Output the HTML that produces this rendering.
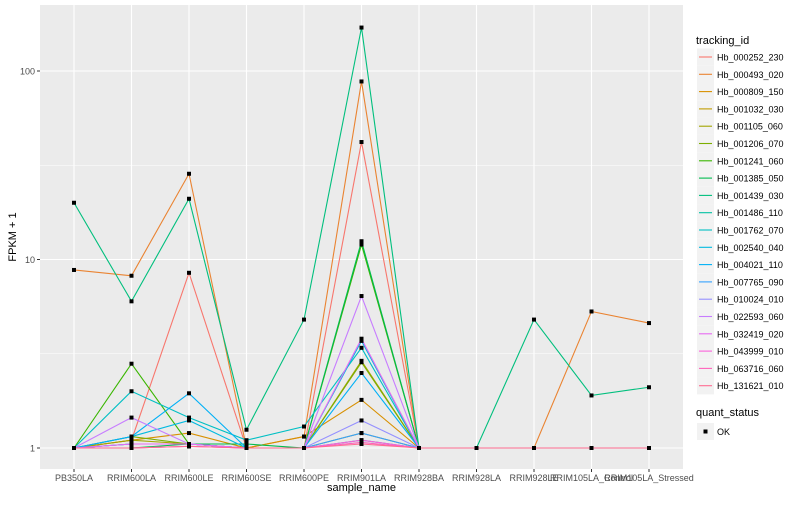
<!DOCTYPE html>
<html><head><meta charset="utf-8"><style>
body{margin:0;background:#fff;font-family:"Liberation Sans",sans-serif}
svg text{font-family:"Liberation Sans",sans-serif}
</style></head><body>
<svg id="chart" width="800" height="500" xmlns="http://www.w3.org/2000/svg"></svg>
<script>
const samples=["PB350LA","RRIM600LA","RRIM600LE","RRIM600SE","RRIM600PE","RRIM901LA","RRIM928BA","RRIM928LA","RRIM928LE","RRIM105LA_Control","RRIM105LA_Stressed"];
const ids=["Hb_000252_230","Hb_000493_020","Hb_000809_150","Hb_001032_030","Hb_001105_060","Hb_001206_070","Hb_001241_060","Hb_001385_050","Hb_001439_030","Hb_001486_110","Hb_001762_070","Hb_002540_040","Hb_004021_110","Hb_007765_090","Hb_010024_010","Hb_022593_060","Hb_032419_020","Hb_043999_010","Hb_063716_060","Hb_131621_010"];
const colors=["#F8766D","#EA8331","#D89000","#C09B00","#A3A500","#7CAE00","#39B600","#00BB4E","#00BF7D","#00C1A3","#00BFC4","#00BAE0","#00B0F6","#35A2FF","#9590FF","#C77CFF","#E76BF3","#FA62DB","#FF62BC","#FF6C91"];
const values=[
[1,1.1,8.5,1,1,42,1,1,1,1,1],
[8.8,8.2,28.5,1,1.15,88,1,1,1,5.3,4.6],
[1,1.1,1.2,1,1.15,1.8,1,1,1,1,1],
[1,1.05,1.05,1,1,1.2,1,1,1,1,1],
[1,1.1,1.05,1,1,2.9,1,1,1,1,1],
[1,1.15,1.05,1,1,2.85,1,1,1,1,1],
[1,2.8,1.05,1,1,12,1,1,1,1,1],
[1,1,1.05,1.05,1,12.5,1,1,1,1,1],
[20,6,21,1.25,4.8,170,1,1,4.8,1.9,2.1],
[1,1.05,1.05,1,1,1.1,1,1,1,1,1],
[1,2.0,1.45,1.1,1.3,3.4,1,1,1,1,1],
[1,1.15,1.4,1,1,3.7,1,1,1,1,1],
[1,1.15,1.95,1,1,2.5,1,1,1,1,1],
[1,1.05,1.05,1,1,1.2,1,1,1,1,1],
[1,1.05,1.05,1,1,1.4,1,1,1,1,1],
[1,1.45,1.05,1,1,6.4,1,1,1,1,1],
[1,1.05,1.05,1,1,3.8,1,1,1,1,1],
[1,1,1.02,1,1,1.1,1,1,1,1,1],
[1,1,1.02,1,1,1.07,1,1,1,1,1],
[1,1,1.02,1,1,1.05,1,1,1,1,1]];
const yTicks=[1,10,100];
const yTickLabels=["1","10","100"];

const NS="http://www.w3.org/2000/svg";
const svg=document.getElementById('chart');
function mk(tag,attrs,parent){const e=document.createElementNS(NS,tag);for(const k in attrs)e.setAttribute(k,attrs[k]);(parent||svg).appendChild(e);return e;}
const PL=40,PR=683,PT=5,PB=469;
function x(i){return 74+i*(649-74)/(samples.length-1);}
function y(v){return 448-Math.log10(v)*188.5;}

const panel=mk('rect',{x:PL,y:PT,width:PR-PL,height:PB-PT,fill:'#EBEBEB'});


[Math.sqrt(10),Math.sqrt(1000)].forEach(v=>{const l=mk('line',{x1:PL,x2:PR,y1:y(v),y2:y(v),stroke:'#fff','stroke-width':0.5});

});
yTicks.forEach((v,i)=>{const l=mk('line',{x1:PL,x2:PR,y1:y(v),y2:y(v),stroke:'#fff','stroke-width':1.1});


const t=mk('line',{x1:PL-3,x2:PL,y1:y(v),y2:y(v),stroke:'#333','stroke-width':1});


const tx=mk('text',{x:PL-5,y:y(v)+3.5,'text-anchor':'end','font-size':9,fill:'#4D4D4D'});tx.textContent=yTickLabels[i];

});
samples.forEach((s,i)=>{const l=mk('line',{x1:x(i),x2:x(i),y1:PT,y2:PB,stroke:'#fff','stroke-width':1.1});


const t=mk('line',{x1:x(i),x2:x(i),y1:PB,y2:PB+3,stroke:'#333','stroke-width':1});


const tx=mk('text',{x:x(i),y:PB+12,'text-anchor':'middle','font-size':9,fill:'#4D4D4D'});tx.textContent=s;

});
values.forEach((row,k)=>{const p=mk('polyline',{points:row.map((v,i)=>x(i)+','+y(v)).join(' '),fill:'none',stroke:colors[k],'stroke-width':1.1});

});
values.forEach((row,k)=>row.forEach((v,i)=>{const r=mk('rect',{x:x(i)-2,y:y(v)-2,width:4,height:4,fill:'#000'});

}));
const xt=mk('text',{x:(PL+PR)/2,y:491,'text-anchor':'middle','font-size':11,fill:'#000'});xt.textContent='sample_name';


const yt=mk('text',{x:0,y:0,'text-anchor':'middle','font-size':11,fill:'#000',transform:'translate(16,237) rotate(-90)'});yt.textContent='FPKM + 1';


const lt=mk('text',{x:696,y:44,'font-size':11,fill:'#000'});lt.textContent='tracking_id';


ids.forEach((id,k)=>{const cy=57+k*17.3;
const g=mk('g',{});


mk('rect',{x:697,y:cy-8.6,width:17,height:17.3,fill:'#F2F2F2'},g);
mk('line',{x1:699,x2:712,y1:cy,y2:cy,stroke:colors[k],'stroke-width':1.1},g);
const t=mk('text',{x:717,y:cy+3.5,'font-size':9,fill:'#000'},g);t.textContent=id;});
const qt=mk('text',{x:696,y:416,'font-size':11,fill:'#000'});qt.textContent='quant_status';


const qg=mk('g',{});


mk('rect',{x:697,y:423,width:17,height:17,fill:'#F2F2F2'},qg);
mk('rect',{x:703.5,y:429.5,width:4,height:4,fill:'#000'},qg);
const ok=mk('text',{x:717,y:435,'font-size':9,fill:'#000'},qg);ok.textContent='OK';
</script>
</body></html>
